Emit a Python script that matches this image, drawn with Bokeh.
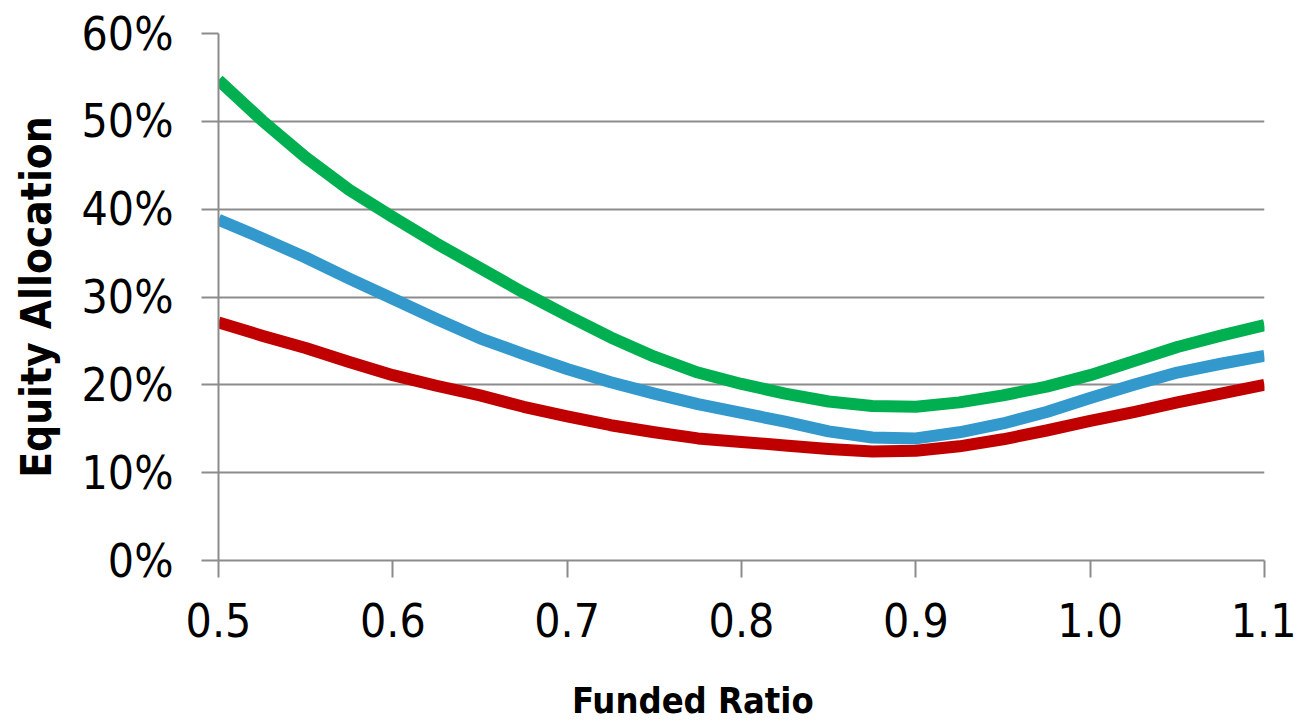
from bokeh.plotting import figure
from bokeh.layouts import column
from bokeh.models import (ColumnDataSource, FixedTicker, PrintfTickFormatter,
                          Range1d, Div)
from bokeh.embed import file_html
from bokeh.resources import INLINE

# Funded ratio grid and equity allocation (%) for the three curves
funded_ratio = [0.500, 0.525, 0.550, 0.575, 0.600, 0.625, 0.650, 0.675,
                0.700, 0.725, 0.750, 0.775, 0.800, 0.825, 0.850, 0.875,
                0.900, 0.925, 0.950, 0.975, 1.000, 1.025, 1.050, 1.075,
                1.100]
alloc_green = [54.7, 50.1, 45.9, 42.2, 39.1, 36.1, 33.3, 30.5, 27.9, 25.4,
               23.2, 21.4, 20.1, 19.0, 18.1, 17.6, 17.5, 18.0, 18.8, 19.8,
               21.1, 22.7, 24.3, 25.6, 26.8]
alloc_blue = [38.8, 36.7, 34.5, 32.1, 29.8, 27.5, 25.3, 23.5, 21.8, 20.3,
              19.0, 17.8, 16.8, 15.8, 14.7, 14.0, 13.9, 14.6, 15.6, 16.9,
              18.5, 20.0, 21.4, 22.4, 23.3]
alloc_red = [27.1, 25.6, 24.2, 22.6, 21.1, 19.9, 18.8, 17.5, 16.4, 15.4,
             14.6, 13.9, 13.5, 13.1, 12.7, 12.4, 12.5, 13.0, 13.8, 14.8,
             15.9, 16.9, 18.0, 19.0, 20.0]

x_ticks = [0.5, 0.6, 0.7, 0.8, 0.9, 1.0, 1.1]
y_ticks = [0, 10, 20, 30, 40, 50, 60]

FONT = "DejaVu Sans Condensed"
GRID = "#8c8c8c"

source = ColumnDataSource(data=dict(
    x=funded_ratio, green=alloc_green, blue=alloc_blue, red=alloc_red))

p = figure(width=1296, height=660, output_backend="svg",
           toolbar_location=None,
           x_range=Range1d(0.5, 1.1), y_range=Range1d(0, 60),
           min_border_left=218, min_border_right=32,
           min_border_top=33, min_border_bottom=100)
p.outline_line_color = None
p.background_fill_color = "white"
p.border_fill_color = "white"

p.xgrid.grid_line_color = None
p.ygrid.grid_line_color = GRID
p.ygrid.grid_line_width = 2

for ax in (p.xaxis[0], p.yaxis[0]):
    ax.axis_line_color = GRID
    ax.axis_line_width = 2
    ax.major_tick_line_color = GRID
    ax.major_tick_line_width = 2
    ax.major_tick_in = 0
    ax.major_tick_out = 17
    ax.minor_tick_line_color = None
    ax.major_label_text_font = FONT
    ax.major_label_text_font_size = "46px"
    ax.major_label_text_color = "black"

p.xaxis.ticker = FixedTicker(ticks=x_ticks)
p.xaxis.formatter = PrintfTickFormatter(format="%.1f")
p.xaxis.major_label_standoff = 25

p.yaxis.ticker = FixedTicker(ticks=y_ticks)
p.yaxis.formatter = PrintfTickFormatter(format="%d%%")
p.yaxis.major_label_standoff = 28
p.yaxis.axis_label = "Equity Allocation"
p.yaxis.axis_label_text_font = FONT
p.yaxis.axis_label_text_font_style = "bold"
p.yaxis.axis_label_text_font_size = "42px"
p.yaxis.axis_label_text_color = "black"
p.yaxis.axis_label_standoff = 18

p.line("x", "green", source=source, line_color="#00b050", line_width=12,
       line_join="round")
p.line("x", "blue", source=source, line_color="#3399cc", line_width=12,
       line_join="round")
p.line("x", "red", source=source, line_color="#c00000", line_width=12,
       line_join="round")

# x-axis title set under the chart
x_title = Div(text="Funded Ratio", width=300, height=40,
              margin=(21, 0, 0, 572),
              styles={"font-family": FONT, "font-size": "36px",
                      "font-weight": "bold", "color": "black",
                      "line-height": "40px", "white-space": "nowrap"})

layout = column(p, x_title, spacing=0)

open("out.html", "w").write(file_html(layout, INLINE))
